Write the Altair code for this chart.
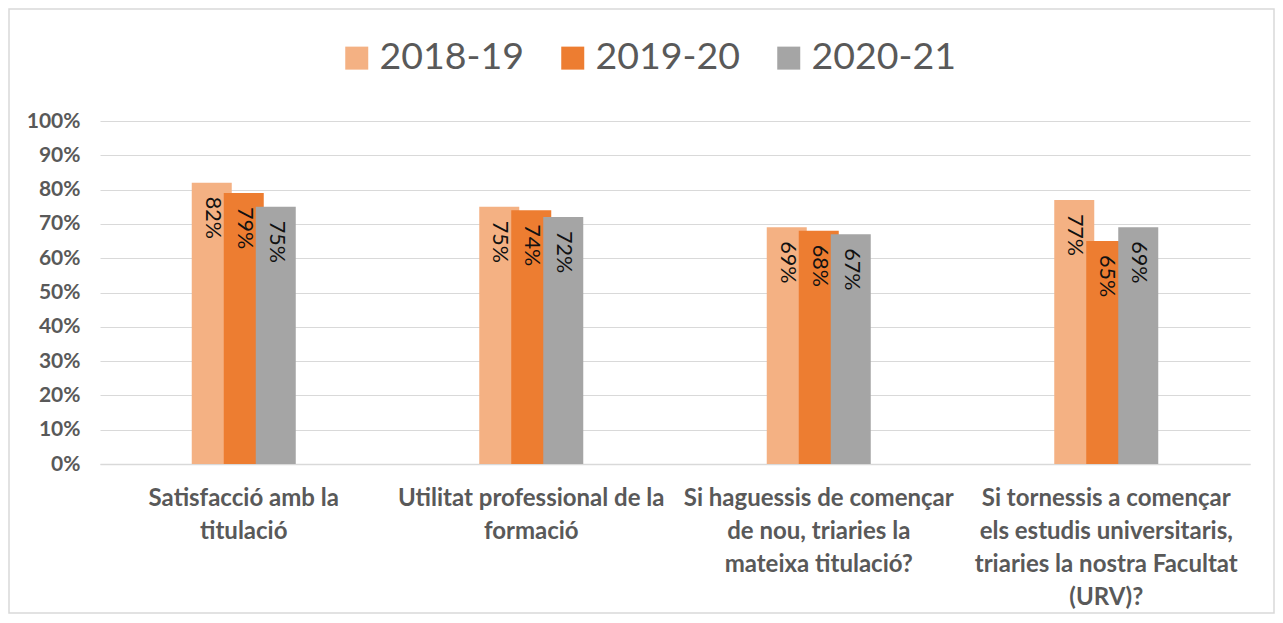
import altair as alt
import pandas as pd

categories = [
    "Satisfacció amb la|titulació",
    "Utilitat professional de la|formació",
    "Si haguessis de començar|de nou, triaries la|mateixa titulació?",
    "Si tornessis a començar|els estudis universitaris,|triaries la nostra Facultat|(URV)?",
]
years = ["2018-19", "2019-20", "2020-21"]
v_2018_19 = [0.82, 0.75, 0.69, 0.77]
v_2019_20 = [0.79, 0.74, 0.68, 0.65]
v_2020_21 = [0.75, 0.72, 0.67, 0.69]
colors = ["#F4B183", "#ED7D31", "#A5A5A5"]
y_ticks = [0, 0.1, 0.2, 0.3, 0.4, 0.5, 0.6, 0.7, 0.8, 0.9, 1.0]

rows = []
for yr, vals in zip(years, [v_2018_19, v_2019_20, v_2020_21]):
    for c, v in zip(categories, vals):
        rows.append({"cat": c, "year": yr, "value": v})
df = pd.DataFrame(rows)

FONT = "Lato"
GREY_TXT = "#595959"

x_enc = alt.X(
    "cat:N",
    sort=categories,
    scale=alt.Scale(paddingInner=0, paddingOuter=0),
    axis=alt.Axis(
        title=None,
        labelAngle=0,
        labelExpr="split(datum.label, '|')",
        labelFont=FONT,
        labelFontWeight="bold",
        labelFontSize=24,
        labelColor=GREY_TXT,
        labelLineHeight=33,
        labelPadding=22,
        labelLimit=400,
        labelOverlap=False,
        labelBound=False,
        ticks=False,
        domainColor="#D9D9D9",
        domainWidth=1.5,
        grid=False,
    ),
)
xoff_enc = alt.XOffset(
    "year:N", sort=years,
    scale=alt.Scale(paddingInner=0, paddingOuter=0, range=[95.75, 191.75]),
)
y_enc = alt.Y(
    "value:Q",
    scale=alt.Scale(domain=[0, 1], nice=False),
    axis=alt.Axis(
        title=None,
        format=".0%",
        values=y_ticks,
        labelFont=FONT,
        labelFontWeight="bold",
        labelFontSize=21,
        labelColor=GREY_TXT,
        labelPadding=20,
        labelOverlap=False,
        domain=False,
        ticks=False,
        grid=True,
        gridColor="#D9D9D9",
        gridWidth=1,
    ),
)

base = alt.Chart(df)

bars = base.mark_bar(width=40).encode(
    x=x_enc,
    xOffset=xoff_enc,
    y=y_enc,
    color=alt.Color(
        "year:N",
        sort=years,
        scale=alt.Scale(domain=years, range=colors),
        legend=alt.Legend(
            title=None,
            orient="none",
            direction="horizontal",
            legendX=238,
            legendY=-82,
            symbolType="square",
            symbolSize=529,
            symbolStrokeWidth=0,
            symbolOpacity=1,
            labelFont=FONT,
            labelFontSize=37.5,
            labelColor=GREY_TXT,
            labelOffset=4,
            columnPadding=30,
            padding=0,
        ),
    ),
)

labels = base.mark_text(
    angle=90,
    align="left",
    baseline="middle",
    dx=14,
    font=FONT,
    fontSize=21.5,
    color="#111111",
).encode(
    x=x_enc,
    xOffset=xoff_enc,
    y=y_enc,
    text=alt.Text("value:Q", format=".0%"),
)

border = alt.Chart(pd.DataFrame({"k": [0]})).mark_rect(
    fillOpacity=0, stroke="#D9D9D9", strokeWidth=1.5
).encode(
    x=alt.value(-91),
    x2=alt.value(1174),
    y=alt.value(-112),
    y2=alt.value(492),
)

chart = (
    alt.layer(bars, labels, border)
    .properties(
        width=1150,
        height=343,
        autosize=alt.AutoSizeParams(type="none"),
        padding={"left": 92, "top": 113, "right": 25, "bottom": 150},
        background="white",
    )
    .configure_view(stroke=None)
)

chart.save("out.html", embed_options={"renderer": "svg", "actions": False})
